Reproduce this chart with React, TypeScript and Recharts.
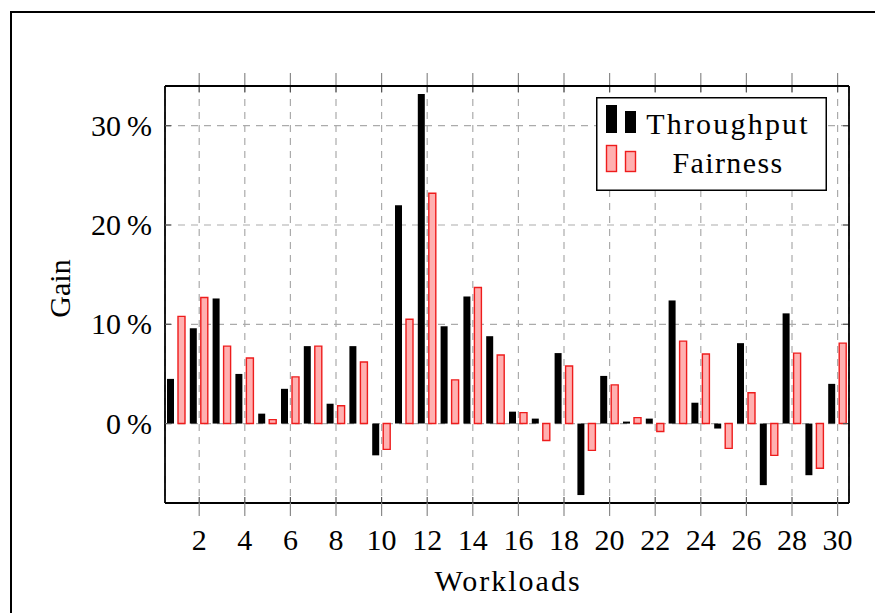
import { BarChart, Bar, XAxis, YAxis, CartesianGrid, Legend, Label, ReferenceLine } from 'recharts';

const workloads = [1, 2, 3, 4, 5, 6, 7, 8, 9, 10, 11, 12, 13, 14, 15, 16, 17, 18, 19, 20, 21, 22, 23, 24, 25, 26, 27, 28, 29, 30];
const throughput = [4.5, 9.6, 12.6, 5.0, 1.0, 3.5, 7.8, 2.0, 7.8, -3.2, 22.0, 33.2, 9.8, 12.8, 8.8, 1.2, 0.5, 7.1, -7.2, 4.8, 0.2, 0.5, 12.4, 2.1, -0.5, 8.1, -6.2, 11.1, -5.2, 4.0];
const fairness = [10.8, 12.7, 7.8, 6.6, 0.4, 4.7, 7.8, 1.8, 6.2, -2.6, 10.5, 23.2, 4.4, 13.7, 6.9, 1.1, -1.7, 5.8, -2.7, 3.9, 0.6, -0.8, 8.3, 7.0, -2.5, 3.1, -3.2, 7.1, -4.5, 8.1];
const xTicks = [2, 4, 6, 8, 10, 12, 14, 16, 18, 20, 22, 24, 26, 28, 30];
const yTicks = [0, 10, 20, 30];

const X_DOMAIN = [0.5, 30.5];
const Y_DOMAIN = [-8, 34];

const FONT = "'Liberation Serif', 'Times New Roman', serif";
const FONT_SIZE = 30;
const GRID = '#ababab';
const RED = '#ee1c1c';
const PINK = '#ffb0b0';

const data = workloads.map((w, i) => ({ w, throughput: throughput[i], fairness: fairness[i] }));

// bottom axis: outer tick, inner tick and the number
const BottomTick = ({ x, y, payload }: any) => (
    <g>
        <line x1={x} x2={x} y1={y} y2={y + 13} stroke="#8a8a8a" strokeWidth={1.2} />
        <line x1={x} x2={x} y1={y} y2={y - 6} stroke="#555" strokeWidth={1.2} />
        <text x={x} y={y + 47} textAnchor="middle" fontFamily={FONT} fontSize={FONT_SIZE} fill="#000">
            {payload.value}
        </text>
    </g>
);

const LeftTick = ({ x, y, payload }: any) => (
    <g>
        <line x1={x} x2={x + 6} y1={y} y2={y} stroke="#555" strokeWidth={1.2} />
        <text x={x - 13} y={y + 10} textAnchor="end" fontFamily={FONT} fontSize={FONT_SIZE} fill="#000">
            {`${payload.value}\u2009%`}
        </text>
    </g>
);

// ticks along the top edge of the frame (drawn from a vertical reference line)
const TopTickShape = (props: any) => {
    const { x1, y1, y2 } = props;
    const top = Math.min(y1, y2);
    return (
        <g>
            <line x1={x1} x2={x1} y1={top} y2={top - 13} stroke="#8a8a8a" strokeWidth={1.2} />
            <line x1={x1} x2={x1} y1={top} y2={top + 6} stroke="#555" strokeWidth={1.2} />
        </g>
    );
};

// ticks along the right edge of the frame
const RightTickShape = (props: any) => {
    const { x1, x2, y1 } = props;
    const right = Math.max(x1, x2);
    return <line x1={right} x2={right - 6} y1={y1} y2={y1} stroke="#555" strokeWidth={1.2} />;
};

const XTitle = ({ viewBox }: any) => (
    <text
        x={viewBox.x + viewBox.width / 2 + 1}
        y={viewBox.y + 88}
        textAnchor="middle"
        fontFamily={FONT}
        fontSize={FONT_SIZE}
        letterSpacing={2}
        fill="#000"
    >
        Workloads
    </text>
);

const YTitle = ({ viewBox }: any) => {
    const cy = viewBox.y + viewBox.height / 2 - 6;
    return (
        <text x={70} y={cy} transform={`rotate(-90, 70, ${cy})`} textAnchor="middle" fontFamily={FONT} fontSize={FONT_SIZE} fill="#000">
            Gain
        </text>
    );
};

const LegendBox = () => (
    <svg width={231} height={94} style={{ display: 'block' }}>
        <rect x={0.75} y={0.75} width={229.5} height={92.5} fill="#fff" stroke="#000" strokeWidth={1.5} />
        <rect x={10} y={8} width={11} height={28} fill="#000" />
        <rect x={29} y={14} width={11} height={22} fill="#000" />
        <text x={132} y={37} textAnchor="middle" fontFamily={FONT} fontSize={FONT_SIZE} letterSpacing={2.2} fill="#000">
            Throughput
        </text>
        <rect x={10.5} y={48.5} width={10} height={26} fill={PINK} stroke={RED} strokeWidth={1.4} />
        <rect x={29.5} y={54.5} width={10} height={20} fill={PINK} stroke={RED} strokeWidth={1.4} />
        <text x={132} y={76} textAnchor="middle" fontFamily={FONT} fontSize={FONT_SIZE} letterSpacing={1.4} fill="#000">
            Fairness
        </text>
    </svg>
);

export default function App() {
    return (
        <div style={{ position: 'fixed', inset: 0, overflow: 'hidden', background: '#fff' }}>
            <div
                style={{
                    position: 'absolute',
                    left: 10,
                    top: 11,
                    width: 900,
                    height: 700,
                    borderLeft: '2px solid #000',
                    borderTop: '2px solid #000',
                }}
            />
            <div style={{ position: 'absolute', left: 0, top: 0 }}>
                <BarChart
                    width={875}
                    height={613}
                    data={data}
                    margin={{ top: 86, right: 26, bottom: 0, left: 0 }}
                    barSize={7}
                    barGap={4}
                >
                    <CartesianGrid stroke={GRID} strokeDasharray="7 6" strokeWidth={1.2} />
                    <XAxis
                        dataKey="w"
                        type="number"
                        domain={X_DOMAIN}
                        ticks={xTicks}
                        interval={0}
                        height={110}
                        axisLine={{ stroke: '#000', strokeWidth: 1.8 }}
                        tickLine={false}
                        tickSize={0}
                        tickMargin={0}
                        tick={<BottomTick />}
                    >
                        <Label content={<XTitle />} />
                    </XAxis>
                    <YAxis
                        type="number"
                        domain={Y_DOMAIN}
                        ticks={yTicks}
                        interval={0}
                        width={165}
                        axisLine={{ stroke: '#000', strokeWidth: 1.8 }}
                        tickLine={false}
                        tickSize={0}
                        tickMargin={0}
                        tick={<LeftTick />}
                    >
                        <Label content={<YTitle />} />
                    </YAxis>
                    {xTicks.map((t) => (
                        <ReferenceLine key={`tx${t}`} x={t} shape={<TopTickShape />} />
                    ))}
                    {yTicks.map((t) => (
                        <ReferenceLine key={`ty${t}`} y={t} shape={<RightTickShape />} />
                    ))}
                    <Legend
                        layout="vertical"
                        align="center"
                        verticalAlign="middle"
                        content={<LegendBox />}
                        wrapperStyle={{ left: 596, top: 97, width: 231, height: 94 }}
                    />
                    <Bar dataKey="throughput" name="Throughput" fill="#000" isAnimationActive={false} />
                    <Bar
                        dataKey="fairness"
                        name="Fairness"
                        fill={PINK}
                        stroke={RED}
                        strokeWidth={1.4}
                        isAnimationActive={false}
                    />
                    {/* top and right edges of the plot frame */}
                    <ReferenceLine y={Y_DOMAIN[1]} stroke="#000" strokeWidth={1.8} />
                    <ReferenceLine x={X_DOMAIN[1]} stroke="#000" strokeWidth={1.8} />
                </BarChart>
            </div>
        </div>
    );
}
